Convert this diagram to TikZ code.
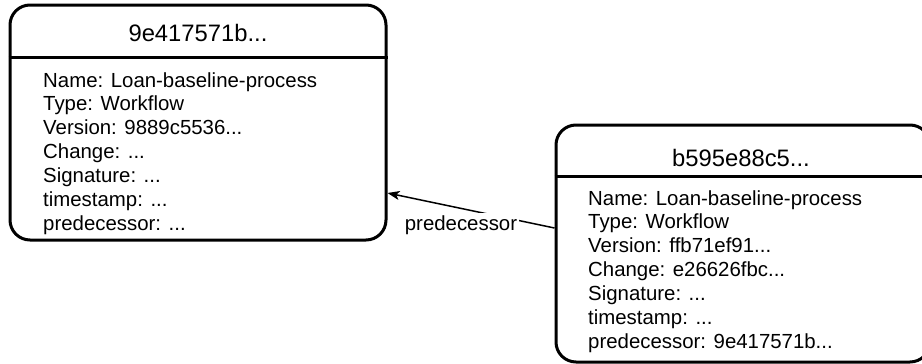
\documentclass[tikz,border=0pt]{standalone}
\usepackage{fontspec}
\setmainfont{Liberation Sans}
\usetikzlibrary{arrows.meta}
\begin{document}
\begin{tikzpicture}[x=1pt,y=-1pt,
  record/.style={draw, line width=3pt, rounded corners=20pt, minimum width=#1, inner sep=0pt},
  divider/.style={line width=3pt},
  title/.style={anchor=base, font=\fontsize{23.8}{28}\selectfont, inner sep=0pt},
  field/.style={anchor=base west, font=\fontsize{20.4}{24}\selectfont, inner sep=0pt},
  link/.style={line width=1.5pt, -{Stealth[length=12pt,width=9pt,inset=3pt]}},
  linklabel/.style={anchor=base, font=\fontsize{20.4}{24}\selectfont, fill=white, inner sep=2pt}]
\useasboundingbox (0,0) rectangle (922,364);

% first record
\node[record=376pt, minimum height=235pt] (A) at (198,122.5) {};
\draw[divider] (A.west |- 0,57) -- (A.east |- 0,57);
\node[title] (At) at (198,41.5) {9e417571b...};
\node[field] (Af1) at (43,87.0)  {Name: Loan-baseline-process};
\node[field] (Af2) at (43,110.85) {Type: Workflow};
\node[field] (Af3) at (43,134.7) {Version: 9889c5536...};
\node[field] (Af4) at (43,158.55) {Change: ...};
\node[field] (Af5) at (43,182.4) {Signature: ...};
\node[field] (Af6) at (43,206.25) {timestamp: ...};
\node[field] (Af7) at (43,230.1) {predecessor: ...};

% second record (runs past the right edge)
\node[record=374pt, minimum height=237pt] (B) at (743,243.5) {};
\draw[divider] (B.west |- 0,176) -- (B.east |- 0,176);
\node[title] (Bt) at (741,166.5) {b595e88c5...};
\node[field] (Bf1) at (588,205.0)  {Name: Loan-baseline-process};
\node[field] (Bf2) at (588,228.85) {Type: Workflow};
\node[field] (Bf3) at (588,252.7) {Version: ffb71ef91...};
\node[field] (Bf4) at (588,276.55) {Change: e26626fbc...};
\node[field] (Bf5) at (588,300.4) {Signature: ...};
\node[field] (Bf6) at (588,324.25) {timestamp: ...};
\node[field] (Bf7) at (588,348.1) {predecessor: 9e417571b...};

% predecessor link
\coordinate (src) at ([yshift=15.5pt]B.west);
\coordinate (dst) at ([yshift=-70.5pt]A.east);
\draw[link] (src) -- (dst);
\node[linklabel] (lbl) at (461,230) {predecessor};
\end{tikzpicture}
\end{document}
